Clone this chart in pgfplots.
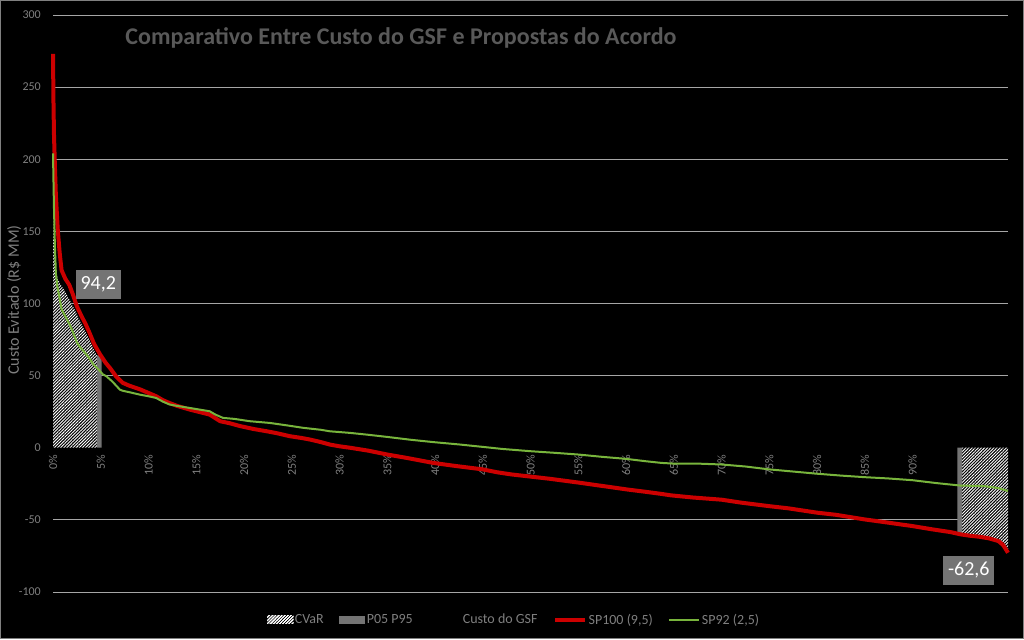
\documentclass[border=0pt]{standalone}
\usepackage{pgfplots}
\pgfplotsset{compat=1.18}
\usepackage{fontspec}
\setmainfont{Carlito}
\usetikzlibrary{patterns.meta}
\definecolor{tickgray}{HTML}{808080}
\definecolor{titlegray}{HTML}{595959}
\definecolor{gridgray}{HTML}{A6A6A6}
\definecolor{sp100red}{HTML}{CC0000}
\definecolor{sp92green}{HTML}{78B43C}
\definecolor{pgray}{HTML}{747474}
\definecolor{lblgray}{HTML}{7F7F7F}
\tikzset{hatchwhite/.style={pattern={Lines[angle=45,distance=2.2pt,line width=0.9pt]}, pattern color=white}}
\begin{document}
\begin{tikzpicture}[x=1pt,y=1pt]
\useasboundingbox (0,0) rectangle (1024,639);
\fill[black] (0,0) rectangle (1024,639);
\draw[gray, line width=1pt] (0.5,0.5) rectangle (1023.5,638.5);
\begin{axis}[
  at={(53pt,47pt)}, anchor=south west, scale only axis,
  width=955pt, height=577pt,
  xmin=0, xmax=100, ymin=-100, ymax=300,
  clip=false,
  axis x line*=middle, axis y line*=left,
  axis line style={draw=none},
  hide obscured x ticks=false, hide obscured y ticks=false,
  major tick length=0pt,
  xtick={0,5,10,15,20,25,30,35,40,45,50,55,60,65,70,75,80,85,90},
  xticklabels={0\%,5\%,10\%,15\%,20\%,25\%,30\%,35\%,40\%,45\%,50\%,55\%,60\%,65\%,70\%,75\%,80\%,85\%,90\%},
  ytick={-100,-50,50,100,150,200,250,300},
  yticklabels={-100,-50,50,100,150,200,250,300},
  extra y ticks={0}, extra y tick labels={0},
  extra y tick style={grid=none},
  ymajorgrids,
  grid style={gridgray, line width=0.8pt},
  tick label style={font=\fontsize{12}{14}\selectfont, text=tickgray},
  xticklabel style={rotate=90, anchor=east, inner sep=0pt},
  xticklabel shift=7pt,
  yticklabel style={anchor=east, inner sep=0pt},
  yticklabel shift=12pt,
  ylabel={Custo Evitado (R\$ MM)},
  ylabel style={at={(axis description cs:-0.0408,0.506)}, anchor=center, font=\fontsize{16}{18}\selectfont, text=lblgray},
  title={Comparativo Entre Custo do GSF e Propostas do Acordo},
  title style={at={(axis description cs:0.3644,0.9383)}, anchor=base, yshift=0pt, font=\bfseries\fontsize{24}{28}\selectfont, text=titlegray},
  legend columns=5,
  legend cell align=left,
  legend style={at={(axis description cs:0.4827,-0.048)}, anchor=center, draw=none, fill=none,
    text=lblgray, font=\fontsize{14}{16}\selectfont,
    /tikz/every even column/.append style={column sep=14pt},
    nodes={inner sep=1.5pt}},
]
% CVaR hatched areas
\addplot[fill=black, draw=none, postaction={hatchwhite},
  legend image code/.code={\fill[black] (0pt,-4pt) rectangle (26pt,4pt);
    \fill[hatchwhite] (0pt,-4pt) rectangle (26pt,4pt);}]
  coordinates {(0,0) (0,163) (0.1,140) (0.3,121) (0.7,114) (1.2,109) (2.1,98) (3.1,84) (3.8,75) (4.4,66) (4.6,64) (4.6,0)} \closedcycle;
\addlegendentry{CVaR}
\addplot[fill=black, draw=none, postaction={hatchwhite}, forget plot]
  coordinates {(95.2,0) (95.2,-60) (96,-61) (97,-61.7) (98,-62.8) (99,-64.7) (99.5,-67.5) (100,-72.8) (100,0)} \closedcycle;
% P05 / P95 bars
\addplot[fill=pgray, draw=none,
  legend image code/.code={\fill[pgray] (0pt,-4pt) rectangle (26pt,4pt);}]
  coordinates {(4.6,0) (4.6,64) (5.1,64) (5.1,0)} \closedcycle;
\addlegendentry{P05 P95}
\addplot[fill=pgray, draw=none, forget plot]
  coordinates {(94.7,0) (94.7,-59.5) (95.2,-60) (95.2,0)} \closedcycle;
% Custo do GSF (invisible series)
\addlegendimage{legend image code/.code={\draw[black, line width=3pt] (0pt,0pt) -- (30pt,0pt);}}
\addlegendentry{Custo do GSF}
% SP100
\addplot[sp100red, line width=4pt, line join=round,
  legend image code/.code={\draw[sp100red, line width=4pt] (0pt,0pt) -- (30pt,0pt);}]
  coordinates {(0,273) (0.05,240) (0.1,218) (0.2,195) (0.3,175) (0.5,151) (0.7,135) (0.9,123) (1.3,117) (1.7,113) (2.1,106) (2.5,98) (3.0,91) (3.4,86) (3.8,80) (4.3,72) (4.9,65) (5.5,59) (6.0,55) (6.6,49.5) (7.3,45) (8.0,43) (9.1,40.5) (10,38) (10.8,35.7) (11.5,33) (12.2,31) (13,29) (14.3,26.5) (15.5,24.5) (16.4,23) (17,20.5) (17.5,18.4) (18.5,17) (19.6,15) (21,13) (22.4,11.4) (23.5,10) (24.8,8) (26,6.8) (26.9,5.7) (28,4) (29,2.2) (30,1) (31.1,0) (33,-2) (35,-4.7) (37,-7) (39.8,-10.5) (42,-12.5) (45,-15) (46.5,-17) (48,-18.5) (50,-20) (52,-21.5) (55.2,-24.3) (57,-26) (60.2,-29) (62,-30.5) (63.7,-32) (64.7,-33) (67,-34.5) (70,-36) (72,-38) (75,-40.5) (77,-42) (80,-45) (82,-46.5) (85,-49.7) (87,-51.5) (90,-54.3) (92,-56.5) (94,-58.5) (95,-60) (96,-61) (97,-61.7) (98,-62.8) (99,-64.7) (99.5,-67.5) (100,-72.8)};
\addlegendentry{SP100 (9,5)}
% SP92
\addplot[sp92green, line width=2pt, line join=round,
  legend image code/.code={\draw[sp92green, line width=2pt] (0pt,0pt) -- (30pt,0pt);}]
  coordinates {(0,204) (0.05,185) (0.1,167) (0.2,140) (0.3,121) (0.45,112) (0.6,107) (0.9,96) (1.3,91) (1.7,86) (2.1,80) (2.5,73) (2.8,70) (3.2,67) (3.7,63) (4.2,58) (4.8,54) (5.2,51) (5.6,49.5) (6.2,46) (7,40.3) (7.3,39.5) (8,38.5) (9.1,36.8) (10,35.7) (10.8,34.5) (11.5,32) (12.2,30) (13,29) (14.3,27.6) (15.5,26.3) (16.4,25.3) (17,23) (17.8,20.7) (19,20) (20.6,18.4) (22.7,17.2) (24.5,15.5) (26.2,13.8) (28,12.5) (29,11.4) (31.1,10.3) (33,9) (35,7.5) (37.5,5.5) (40,3.8) (42.5,2.3) (45,0.6) (47,-0.8) (50,-2.4) (52.5,-3.5) (55,-4.7) (57.5,-6.3) (60,-7.7) (62,-9.3) (63.7,-10.5) (65,-11) (67.5,-11) (70,-11.6) (72.5,-13) (75,-15) (77.5,-16.5) (80,-18) (82.5,-19.3) (85,-20.4) (87.5,-21.3) (90,-22.5) (92.5,-24.5) (95,-26.2) (97.5,-26.6) (99,-28) (100,-30)};
\addlegendentry{SP92 (2,5)}
% data labels
\node[fill=pgray, text=white, font=\fontsize{20}{24}\selectfont, inner sep=0pt, minimum width=45pt, minimum height=29pt] at (axis cs:4.74,113) {94,2};
\node[fill=pgray, text=white, font=\fontsize{20}{24}\selectfont, inner sep=0pt, minimum width=51pt, minimum height=29pt] at (axis cs:95.9,-84.9) {-62,6};
\end{axis}
\end{tikzpicture}
\end{document}
